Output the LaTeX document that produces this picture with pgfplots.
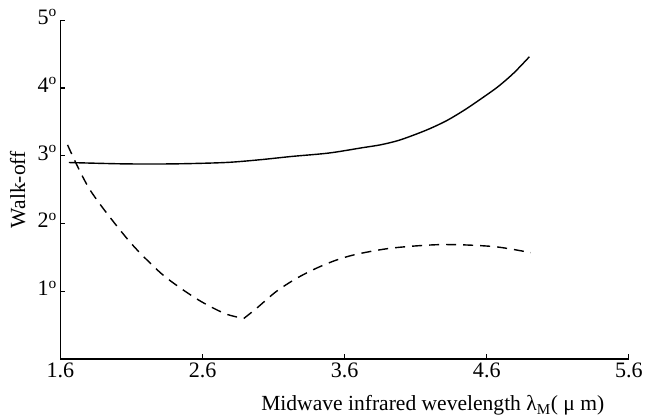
\documentclass[border=0pt]{standalone}
\usepackage{pgfplots}
\pgfplotsset{compat=1.18}
\usepackage{fontspec}
\setmainfont{Liberation Serif}
\begin{document}
\begin{tikzpicture}
\begin{axis}[
    scale only axis,
    width=565bp, height=337bp,
    xmin=1.6, xmax=5.6,
    ymin=0, ymax=5,
    axis lines*=left,
    axis line style={line width=1.6pt},
    tick align=inside,
    major tick length=5pt,
    tick style={line width=1.2pt, black},
    xtick={1.6,2.6,3.6,4.6,5.6},
    xticklabels={1.6,2.6,3.6,4.6,5.6},
    ytick={1,2,3,4,5},
    yticklabels={1\textsuperscript{o},2\textsuperscript{o},3\textsuperscript{o},4\textsuperscript{o},5\textsuperscript{o}},
    ticklabel style={font=\fontsize{22}{25}\selectfont},
    yticklabel style={yshift=3pt},
    xlabel={Midwave infrared wevelength λ\textsubscript{M}( μ m)},
    ylabel={Walk-off},
    label style={font=\fontsize{21.5}{24}\selectfont},
    xlabel style={at={(axis description cs:0.655,0)}, anchor=north, yshift=-33pt},
    ylabel style={at={(axis description cs:-0.075,0.5)}, anchor=center, inner sep=10bp},
    clip=false,
]
\addplot[black, line width=1.4pt, smooth] coordinates {
    (1.66,2.90) (2.05,2.88) (2.40,2.88) (2.76,2.90) (3.00,2.94) (3.23,2.99)
    (3.49,3.04) (3.73,3.12) (3.85,3.16) (3.97,3.22) (4.08,3.30) (4.20,3.40)
    (4.32,3.52) (4.44,3.67) (4.56,3.84) (4.68,4.02) (4.79,4.22) (4.90,4.46)
};
\addplot[black, line width=1.4pt, dash pattern=on 10pt off 7pt, smooth] coordinates {
    (1.65,3.16) (1.81,2.49) (2.08,1.75) (2.29,1.30) (2.43,1.07) (2.59,0.85)
    (2.76,0.67) (2.89,0.60)
};
\addplot[black, line width=1.4pt, dash pattern=on 10pt off 7pt, smooth] coordinates {
    (2.89,0.60) (2.98,0.75) (3.12,1.00) (3.26,1.19) (3.40,1.34) (3.54,1.46)
    (3.69,1.55) (3.94,1.64) (4.29,1.69) (4.65,1.66) (4.91,1.57)
};
\end{axis}
\path ([yshift=20bp]current axis.north);
\end{tikzpicture}
\end{document}
